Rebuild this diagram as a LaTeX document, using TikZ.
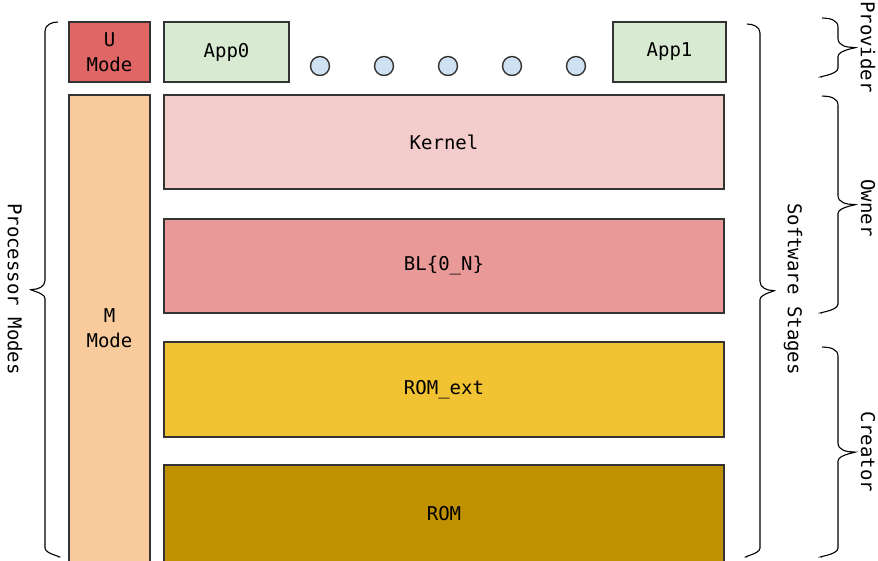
\documentclass[tikz,border=0pt]{standalone}
\usepackage{fontspec}
\setmonofont{DejaVu Sans Mono}
\usepackage{xcolor}
\definecolor{edge}{RGB}{ 51,  51,  51}
\definecolor{umode}{RGB}{224, 102, 102}
\definecolor{mmode}{RGB}{249, 203, 156}
\definecolor{appgreen}{RGB}{217, 234, 211}
\definecolor{dotblue}{RGB}{207, 226, 243}
\definecolor{kernel}{RGB}{244, 204, 204}
\definecolor{boot}{RGB}{234, 153, 153}
\definecolor{romext}{RGB}{241, 194,  50}
\definecolor{rom}{RGB}{191, 144,   0}
\usepackage{tikz}
\usetikzlibrary{
  positioning
}
% #1 x of the ends, #2 top, #3 bottom, #4 half depth (sign = side)
\newcommand{\sidebrace}[4]{%
  \draw[line width=1.1pt]
    (#1,#2) to[out={90-90*sign(#4)},in=90] ({#1+#4},{#2+9})
    -- ({#1+#4},{(#2+#3)/2-9}) to[out=-90,in={90+90*sign(#4)}] ({#1+2*#4},{(#2+#3)/2})
    to[out={90-90*sign(#4)},in=90] ({#1+#4},{(#2+#3)/2+9})
    -- ({#1+#4},{#3-9}) to[out=-90,in={90+90*sign(#4)}] (#1,#3);
}

\begin{document}
\begin{tikzpicture}[x=1pt, y=-1pt,
    layer/.style={draw=edge, line width=1.2pt, inner sep=0pt, align=center,
      font=\ttfamily\fontsize{19}{25}\selectfont},
    dot/.style={circle, draw=edge, line width=1.4pt, fill=dotblue,
      minimum size=19pt, inner sep=0pt},
    tag/.style={rotate=-90, font=\ttfamily\fontsize{19}{22}\selectfont}
  ]
    \useasboundingbox (0,0) rectangle (878,560);

    % processor modes
    \node[layer, fill=umode, minimum width=81pt, minimum height=60pt] (umode) at (109.5,52) {U\\Mode};
    \node[layer, fill=mmode, minimum width=81pt, minimum height=467pt] (mmode) at (109.5,328.5) {M\\Mode};

    % applications
    \node[layer, fill=appgreen, minimum width=125pt, minimum height=60pt] (app0) at (226.5,52) {App0};
    \node[layer, fill=appgreen, minimum width=113pt, minimum height=60pt] (app1) at (669.5,52) {App1};
    \foreach \x [count=\i] in {320,384,448,512,576}
      \node[dot] (dot\i) at (\x,66) {};

    % software stages
    \node[layer, fill=kernel, minimum width=560pt, minimum height=94pt] (kernel) at (444,142) {Kernel};
    \node[layer, fill=boot, minimum width=560pt, minimum height=94pt] (bl) at (444,266) {BL\{0\_N\}};
    \node[layer, fill=romext, minimum width=560pt, minimum height=95pt] (romext) at (444,389.5) {ROM\_ext};
    \node[layer, fill=rom, minimum width=560pt, minimum height=97pt] (rom) at (444,513.5) {ROM};

    % braces
    \sidebrace{58}{22}{557}{-13}
    \node[tag] (pmodes) at (15,289) {Processor Modes};
    \sidebrace{747}{24}{557}{13}
    \node[tag] (stages) at (793,289) {Software Stages};

    \sidebrace{822}{18}{77}{16}
    \node[tag] (provider) at (868,47) {Provider};
    \sidebrace{822}{96}{313}{16}
    \node[tag] (owner) at (868,208) {Owner};
    \sidebrace{822}{347}{557}{16}
    \node[tag] (creator) at (868,452) {Creator};
  \end{tikzpicture}
\end{document}
